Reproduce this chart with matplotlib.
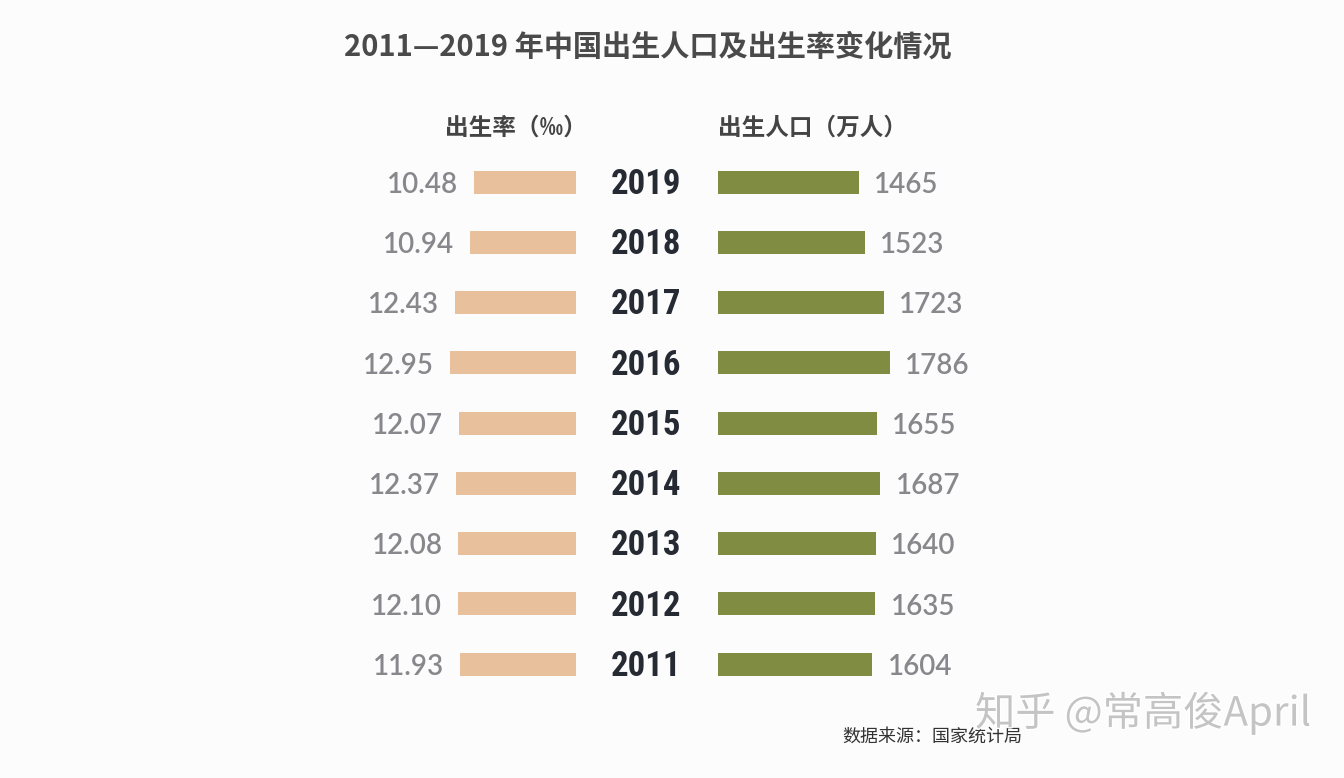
import matplotlib
matplotlib.use("Agg")
import matplotlib.pyplot as plt
import matplotlib.patheffects as pe
from matplotlib import font_manager
from matplotlib.transforms import blended_transform_factory

# data
years = ["2019", "2018", "2017", "2016", "2015", "2014", "2013", "2012", "2011"]
birth_rate = [10.48, 10.94, 12.43, 12.95, 12.07, 12.37, 12.08, 12.10, 11.93]
rate_labels = ["10.48", "10.94", "12.43", "12.95", "12.07", "12.37", "12.08", "12.10", "11.93"]
births = [1465, 1523, 1723, 1786, 1655, 1687, 1640, 1635, 1604]

title = "2011—2019 年中国出生人口及出生率变化情况"
left_header = "出生率（‰）"
right_header = "出生人口（万人）"
source = "数据来源：国家统计局"
watermark = "知乎 @常高俊April"

CJK = ["Noto Sans CJK SC", "DejaVu Sans"]
BG = "#fcfcfd"
W, H = 1344, 778

# pick a narrow bold face for the year column if one is installed
installed = {f.name for f in font_manager.fontManager.ttflist}
narrow = None
for name in ["Liberation Sans Narrow", "Roboto Condensed", "DejaVu Sans Condensed",
             "Open Sans Condensed", "Noto Sans Condensed"]:
    if name in installed:
        narrow = name
        break
if narrow:
    year_font = dict(family=[narrow, "DejaVu Sans"], fontsize=25)
else:
    year_font = dict(family=["DejaVu Sans"], fontstretch="condensed", fontsize=21)

fig = plt.figure(figsize=(W / 100, H / 100), dpi=100, facecolor=BG)


def fx(px):
    return px / W


def fy(py):
    return 1 - py / H


# layout in pixels
row_top, row_step = 182, (664 - 182) / 8
ax_top = row_top - row_step / 2
ax_h = row_step * len(years)

# left axes: birth rate, bars grow leftwards from x=576
l_left, l_right = 300, 576
px_per_rate = 126 / 12.95
ax_l = fig.add_axes([fx(l_left), fy(ax_top + ax_h), fx(l_right - l_left), ax_h / H])
# right axes: births, bars grow rightwards from x=718
r_left, r_right = 718, 1000
px_per_birth = 172 / 1786
ax_r = fig.add_axes([fx(r_left), fy(ax_top + ax_h), fx(r_right - r_left), ax_h / H])

ypos = list(range(len(years)))
bar_h = 23 / row_step

ax_l.barh(ypos, birth_rate, height=bar_h, color="#e8c09c")
ax_l.set_xlim((l_right - l_left) / px_per_rate, 0)
ax_r.barh(ypos, births, height=bar_h, color="#7f8c42")
ax_r.set_xlim(0, (r_right - r_left) / px_per_birth)

for ax in (ax_l, ax_r):
    ax.set_ylim(len(years) - 0.5, -0.5)
    ax.axis("off")

num_font = dict(family=["Lato", "DejaVu Sans"], fontsize=20, fontweight="semibold",
                color="#88888c")
for y, v, lab in zip(ypos, birth_rate, rate_labels):
    ax_l.annotate(lab, (v, y), xytext=(-11.5, -2), textcoords="offset points",
                  ha="right", va="center", **num_font)
for y, v in zip(ypos, births):
    ax_r.annotate(str(v), (v, y), xytext=(10.8, -2), textcoords="offset points",
                  ha="left", va="center", **num_font)

# year labels in the middle column
trans = blended_transform_factory(fig.transFigure, ax_l.transData)
for y, yr in zip(ypos, years):
    fig.text(fx(646), y + 0.04, yr, transform=trans, ha="center", va="center",
             fontweight="bold", color="#262a33", **year_font)

# title and headers
fig.text(fx(648), fy(47), title, ha="center", va="center", family=CJK,
         fontsize=21, fontweight="bold", color="#4a4a4a")
fig.text(fx(445), fy(128), left_header, ha="left", va="center", family=CJK,
         fontsize=17, fontweight="bold", color="#444444")
fig.text(fx(718), fy(128), right_header, ha="left", va="center", family=CJK,
         fontsize=17, fontweight="bold", color="#444444")

# source note and watermark
fig.text(fx(842), fy(737), source, ha="left", va="center", family=CJK,
         fontsize=13, color="#333333")
fig.text(fx(975), fy(713), watermark, ha="left", va="center", family=CJK,
         fontsize=29, color="#c4c4c4", zorder=5,
         path_effects=[pe.withStroke(linewidth=2, foreground="white")])

fig.savefig("out.png", dpi=100, facecolor=BG)
